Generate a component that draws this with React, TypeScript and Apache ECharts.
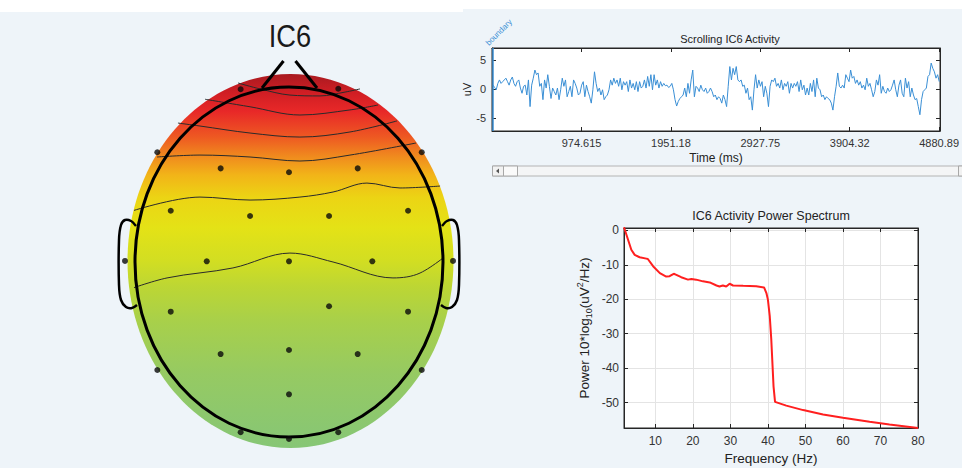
import React, { useEffect, useRef } from 'react';
import * as echarts from 'echarts';

// ---------- Scrolling activity (uV), sampled every TS_STEP_MS from TS_START_MS ----------
const TS_START_MS = 7;
const TS_STEP_MS = 17.6;
const TS_UV = [
  0.7, 0.3, -0.1, 1.0, 1.6, 1.0, 1.3, 1.6, 1.9, 1.3, 0.7, 1.6, 2.1, 1.0, 0.5, 1.3, 1.6, 0.2, -0.7, 0.5, 0.7, -1.0, 1.6, -3.0, 0.7, 1.9,
  3.3, 2.5, 2.8, 0.5, 1.0, -1.8, 1.6, 0.2, 2.5, 0.5, -1.6, 0.2, -0.4, -1.0, 0.2, -1.8, -0.1, 1.9, 0.5, 1.6, -1.3, -0.4, 0.5, -1.3, 1.6, 1.0,
  0.2, -1.0, -0.7, 0.7, 1.3, -1.3, 0.7, -0.4, -1.3, -2.4, -0.1, 3.0, 1.0, -0.4, 0.2, -1.0, -0.1, -1.8, -1.3, -1.0, -0.1, 1.6, 0.7, 1.9, 1.0, 1.6,
  0.5, 1.9, -0.1, 1.3, 0.7, 1.3, -0.4, 1.6, 0.2, 1.0, -0.1, 1.3, -0.4, 1.3, 0.2, 0.5, 1.6, 0.2, 2.2, 0.5, 2.5, -0.1, 2.5, 0.7, 1.6, 0.2,
  1.3, 0.5, 1.0, 0.6, 0.7, 0.3, 0.5, 1.0, -0.1, -1.8, -2.9, -2.1, -1.6, -1.3, -1.0, 0.2, -1.3, 1.0, -0.7, 1.6, 3.3, -1.3, 0.5, 0.2, -0.4, 0.7,
  -0.1, -0.4, 0.2, -0.7, -0.4, 0.2, -0.4, -1.3, -1.0, -1.8, -1.3, -1.6, -2.4, -1.0, -1.8, -3.0, 0.5, 3.9, 1.6, 3.6, 2.5, 3.9, 1.6, 1.3, 1.6, 0.5,
  0.7, -0.7, 0.2, -1.8, -1.3, -3.6, -0.1, 2.5, 0.2, 1.6, 0.5, 1.3, -1.3, 0.5, -0.7, -3.0, 0.5, 1.6, 1.3, 1.9, 0.5, 1.0, 0.2, 1.6, -0.1, 1.0,
  0.5, 1.3, -0.7, 1.0, 0.2, 1.0, 0.5, 1.3, -0.4, 1.6, -0.1, 0.7, -1.0, 0.2, -1.0, 1.0, -0.4, 1.6, -1.3, 1.9, 0.2, -0.1, -1.3, -1.0, -1.8, -1.3,
  -1.6, -1.8, -2.4, -3.6, -1.3, 0.5, 2.8, 0.5, 0.2, 0.7, 0.2, 2.5, 1.9, 1.3, 3.3, 1.9, 2.2, 1.0, 1.6, 0.7, 1.3, 0.2, 0.7, -0.1, 1.9, 0.5,
  1.0, -0.1, -1.3, -0.4, 1.6, 0.7, 2.5, -0.7, 0.5, -0.4, -0.7, 0.2, -0.4, -0.1, 0.7, 1.6, -0.1, -1.3, 0.7, 1.6, -0.7, -1.3, 1.9, 0.2, 1.3, -1.3,
  0.2, -1.0, -1.8, -1.6, -3.0, -4.4, -1.8, -0.4, -0.1, 0.2, 2.2, 2.5, 4.5, 3.6, 3.0, 1.9, 2.5, 1.3,
];
const TIME_TICKS = [974.615, 1951.18, 2927.75, 3904.32, 4880.89];
const BOUNDARY_MS = 0;

// ---------- Power spectrum ----------
const FREQ_HZ = [1.65, 3.6, 4.5, 5.8, 7.6, 8, 9.4, 11.2, 12.9, 13.8, 14.9, 15.6, 16.9, 18.7, 19.6, 20.9, 22.7, 24.5, 26.3, 27.1, 28, 28.9, 29.8, 30.7, 33.4, 36.9, 39, 39.6, 40, 40.5, 40.9, 41.5, 41.9, 44.9, 49.4, 54.7, 60, 67.1, 72.4, 80];
const POWER_DB = [0.9, -5.6, -7.1, -7.8, -8.2, -8.3, -10.4, -12.4, -13.4, -13.3, -12.6, -12.9, -13.6, -14.3, -14.1, -14.3, -14.8, -15.1, -16.0, -16.3, -16.0, -16.3, -15.5, -16.0, -16.1, -16.2, -16.6, -18.2, -20.1, -25, -31.7, -45.3, -49.8, -50.9, -52.2, -53.5, -54.4, -55.6, -56.4, -57.4];

// ---------- Scalp map (normalised head coordinates, nose up) ----------
const ELECTRODE_X = [-0.314, 0.32, -0.855, 0.862, -0.444, 0.0, 0.446, -0.768, -0.253, 0.26, 0.773, -1.065, -0.534, 0.0, 0.541, 1.065, -0.768, 0.26, 0.773, -0.444, 0.0, 0.446, -0.855, 0.862, 0.0, -0.314, 0.0, 0.32];
const ELECTRODE_Y = [0.987, 0.99, 0.627, 0.627, 0.535, 0.513, 0.535, 0.293, 0.263, 0.263, 0.293, 0.006, 0.004, 0.004, 0.004, 0.006, -0.284, -0.253, -0.284, -0.526, -0.503, -0.526, -0.617, -0.617, -0.756, -0.973, -1.011, -0.973];

const CONTOUR_0 = [[-0.331, 1.023], [-0.188, 0.989], [0.006, 0.954], [0.201, 0.949], [0.364, 0.971], [0.461, 0.989]];
const CONTOUR_1 = [[-0.545, 0.93], [-0.253, 0.887], [0.071, 0.84], [0.396, 0.869], [0.578, 0.897]];
const CONTOUR_2 = [[-0.721, 0.794], [-0.578, 0.777], [-0.253, 0.737], [0.071, 0.714], [0.396, 0.743], [0.701, 0.806]];
const CONTOUR_3 = [[-0.857, 0.6], [-0.578, 0.611], [-0.253, 0.6], [0.071, 0.577], [0.396, 0.611], [0.825, 0.68]];
const CONTOUR_4 = [[-1.039, 0.286], [-0.578, 0.371], [-0.253, 0.354], [0.071, 0.371], [0.286, 0.4], [0.506, 0.451], [0.721, 0.423], [0.981, 0.434]];
const CONTOUR_5 = [[-1.052, -0.16], [-0.792, -0.091], [-0.364, -0.034], [0.006, 0.051], [0.286, 0.0], [0.675, -0.091], [0.851, -0.063], [1.058, 0.063]];
const CONTOURS = [CONTOUR_0, CONTOUR_1, CONTOUR_2, CONTOUR_3, CONTOUR_4, CONTOUR_5];

const FONT = 'Liberation Sans, Arial, Helvetica, sans-serif';
const AX = '#262626';

export default function App() {
  const ref = useRef<HTMLDivElement>(null);
  useEffect(() => {
    document.body.style.margin = '0';
    const chart = echarts.init(ref.current!, null, { renderer: 'svg' });

    const tsData = TS_UV.map((v, i) => [TS_START_MS + i * TS_STEP_MS, v]);
    const specData = FREQ_HZ.map((f, i) => [f, POWER_DB[i]]);
    const elecData = ELECTRODE_X.map((x, i) => [x, ELECTRODE_Y[i]]);

    const scalpGradient = new echarts.graphic.LinearGradient(0, 0, 0, 1, [
      { offset: 0, color: '#a81a20' },
      { offset: 0.05, color: '#d01e24' },
      { offset: 0.1, color: '#e82828' },
      { offset: 0.17, color: '#ee5a22' },
      { offset: 0.22, color: '#f08a1e' },
      { offset: 0.27, color: '#f2b418' },
      { offset: 0.33, color: '#ecd414' },
      { offset: 0.41, color: '#e4e216' },
      { offset: 0.5, color: '#d2de22' },
      { offset: 0.57, color: '#bcd634' },
      { offset: 0.66, color: '#a8d04a' },
      { offset: 0.8, color: '#96ca62' },
      { offset: 1, color: '#86c676' },
    ]);

    const stroke = (lw: number) => ({ stroke: '#000', lineWidth: lw, fill: 'none' });
    const tenFmt = (v: number) => (Math.abs(v / 10 - Math.round(v / 10)) < 1e-6 ? String(Math.round(v)) : '');
    const fiveFmt = (v: number) => (Math.abs(v / 5 - Math.round(v / 5)) < 1e-6 ? String(Math.round(v)) : '');
    const axLine = { show: true, onZero: false, lineStyle: { color: AX } };

    const option: any = {
      animation: false,
      backgroundColor: '#eef4f9',
      textStyle: { fontFamily: FONT },
      grid: [
        { left: 492, top: 48, width: 464, height: 83, show: true, backgroundColor: '#fff', borderColor: AX, borderWidth: 1 },
        { left: 624, top: 228, width: 294, height: 200, show: true, backgroundColor: '#fff', borderColor: AX, borderWidth: 1 },
        { left: 135, top: 87, width: 308, height: 350, show: false },
      ],
      xAxis: [
        {
          type: 'value', gridIndex: 0, min: -4, max: 4891,
          axisLine: axLine,
          axisTick: { show: true, inside: true, length: 4, customValues: TIME_TICKS, lineStyle: { color: AX } },
          axisLabel: {
            customValues: TIME_TICKS, color: '#333', fontSize: 11, margin: 6,
            alignMaxLabel: 'center', alignMinLabel: 'center', hideOverlap: false,
            formatter: (v: number) => String(v),
          },
          splitLine: { show: false },
          name: 'Time (ms)', nameLocation: 'middle', nameGap: 21,
          nameTextStyle: { fontSize: 12, color: '#222' },
        },
        {
          type: 'value', gridIndex: 0, position: 'top', min: -4, max: 4891,
          axisLine: axLine,
          axisTick: { show: true, inside: true, length: 4, customValues: TIME_TICKS, lineStyle: { color: AX } },
          axisLabel: { show: false }, splitLine: { show: false },
        },
        {
          type: 'value', gridIndex: 1, min: 1.65, max: 80, minInterval: 10, maxInterval: 10, splitNumber: 8,
          axisLine: axLine,
          axisTick: { show: true, inside: true, length: 4, lineStyle: { color: AX } },
          axisLabel: { color: '#333', fontSize: 12, margin: 7, formatter: tenFmt, showMinLabel: false },
          splitLine: { show: true, lineStyle: { color: '#e4e4e4', width: 1 } },
          name: 'Frequency (Hz)', nameLocation: 'middle', nameGap: 23,
          nameTextStyle: { fontSize: 13.5, color: '#222' },
        },
        {
          type: 'value', gridIndex: 1, position: 'top', min: 1.65, max: 80, minInterval: 10, maxInterval: 10, splitNumber: 8,
          axisLine: axLine,
          axisTick: { show: true, inside: true, length: 4, lineStyle: { color: AX } },
          axisLabel: { show: false }, splitLine: { show: false },
        },
        { type: 'value', gridIndex: 2, min: -1, max: 1, show: false },
      ],
      yAxis: [
        {
          type: 'value', gridIndex: 0, min: -7.2, max: 7.1, minInterval: 5, maxInterval: 5, splitNumber: 3,
          axisLine: axLine,
          axisTick: { show: true, inside: true, length: 4, lineStyle: { color: AX } },
          axisLabel: { color: '#333', fontSize: 11, margin: 6, formatter: fiveFmt },
          splitLine: { show: false },
          name: 'uV', nameLocation: 'middle', nameGap: 17,
          nameTextStyle: { fontSize: 11, color: '#222' },
        },
        {
          type: 'value', gridIndex: 0, position: 'right', min: -7.2, max: 7.1, minInterval: 5, maxInterval: 5, splitNumber: 3,
          axisLine: axLine,
          axisTick: { show: true, inside: true, length: 4, lineStyle: { color: AX } },
          axisLabel: { show: false }, splitLine: { show: false },
        },
        {
          type: 'value', gridIndex: 1, min: -57.4, max: 0.7, minInterval: 10, maxInterval: 10, splitNumber: 6,
          axisLine: axLine,
          axisTick: { show: true, inside: true, length: 4, lineStyle: { color: AX } },
          axisLabel: { color: '#333', fontSize: 12, margin: 5, formatter: tenFmt, showMinLabel: false, showMaxLabel: false },
          splitLine: { show: true, lineStyle: { color: '#e4e4e4', width: 1 } },
          name: 'Power 10*log{sub|10}(uV{sup|2}/Hz)', nameLocation: 'middle', nameGap: 31,
          nameTextStyle: {
            fontSize: 13.5, color: '#222', lineHeight: 18,
            rich: {
              sub: { fontSize: 9, verticalAlign: 'bottom', lineHeight: 18, color: '#222', padding: [6, 0, 0, 0] },
              sup: { fontSize: 9, verticalAlign: 'top', lineHeight: 18, color: '#222', padding: [0, 0, 6, 0] },
            },
          },
        },
        {
          type: 'value', gridIndex: 1, position: 'right', min: -57.4, max: 0.7, minInterval: 10, maxInterval: 10, splitNumber: 6,
          axisLine: axLine,
          axisTick: { show: true, inside: true, length: 4, lineStyle: { color: AX } },
          axisLabel: { show: false }, splitLine: { show: false },
        },
        { type: 'value', gridIndex: 2, min: -1, max: 1, show: false },
      ],
      series: [
        {
          type: 'line', xAxisIndex: 0, yAxisIndex: 0, data: tsData, showSymbol: false, symbol: 'none',
          lineStyle: { color: '#3a8fd5', width: 1 },
          markLine: {
            silent: true, symbol: ['none', 'none'], label: { show: false },
            lineStyle: { color: '#3a8fd5', type: 'solid', width: 1.5 },
            data: [{ xAxis: BOUNDARY_MS }],
          },
        },
        {
          type: 'line', xAxisIndex: 2, yAxisIndex: 2, data: specData, showSymbol: false, symbol: 'none',
          lineStyle: { color: '#ff1f1f', width: 2 },
        },
        ...CONTOURS.map((c) => ({
          type: 'line', xAxisIndex: 4, yAxisIndex: 4, data: c, smooth: 0.35, symbol: 'none', showSymbol: false,
          clip: false, z: 3, silent: true,
          lineStyle: { color: '#2a2a2a', width: 1 },
        })),
        {
          type: 'scatter', xAxisIndex: 4, yAxisIndex: 4, data: elecData, symbol: 'circle', symbolSize: 6,
          itemStyle: { color: '#0a0a0a' }, z: 10, clip: false, silent: true,
        },
      ],
      graphic: [
        { type: 'rect', z: -1, silent: true, shape: { x: 0, y: 0, width: 463, height: 12 }, style: { fill: '#ffffff' } },
        { type: 'rect', z: -1, silent: true, shape: { x: 463, y: 0, width: 499, height: 9 }, style: { fill: '#ffffff' } },
        { type: 'ellipse', z: 1, silent: true, shape: { cx: 290.5, cy: 261, rx: 163, ry: 187 }, style: { fill: scalpGradient } },
        { type: 'ellipse', z: 4, silent: true, shape: { cx: 289, cy: 262, rx: 154, ry: 175 }, style: stroke(3) },
        { type: 'polyline', z: 4, silent: true, shape: { points: [[262, 88], [283.5, 61]] }, style: stroke(3) },
        { type: 'polyline', z: 4, silent: true, shape: { points: [[295.5, 61], [317, 88]] }, style: stroke(3) },
        {
          type: 'polyline', z: 4, silent: true,
          shape: { smooth: 0.3, points: [[136, 226], [131, 221], [125, 220], [121, 225], [119, 240], [119, 285], [121, 300], [126, 307], [132, 308], [137, 305]] },
          style: stroke(2.5),
        },
        {
          type: 'polyline', z: 4, silent: true,
          shape: { smooth: 0.3, points: [[442, 226], [447, 221], [453, 220], [457, 225], [459, 240], [459, 285], [457, 300], [452, 307], [446, 308], [441, 305]] },
          style: stroke(2.5),
        },
        {
          type: 'text', z: 5, x: 290, y: 36, scaleX: 0.88, silent: true,
          style: { text: 'IC6', fontSize: 31, fontFamily: FONT, fill: '#1a1a1a', align: 'center', verticalAlign: 'middle' },
        },
        {
          type: 'text', z: 5, x: 730, y: 39, silent: true,
          style: { text: 'Scrolling IC6 Activity', fontSize: 11, fontFamily: FONT, fill: '#222', align: 'center', verticalAlign: 'middle' },
        },
        {
          type: 'text', z: 5, x: 771, y: 216, silent: true,
          style: { text: 'IC6 Activity Power Spectrum', fontSize: 12.5, fontFamily: FONT, fill: '#222', align: 'center', verticalAlign: 'middle' },
        },
        {
          type: 'text', z: 5, x: 490, y: 47, rotation: Math.PI / 4, silent: true,
          style: { text: 'boundary', fontSize: 8, fontFamily: FONT, fill: '#3a8fd5', align: 'left', verticalAlign: 'bottom' },
        },
        // scrollbar
        { type: 'rect', z: 2, silent: true, shape: { x: 492.5, y: 166, width: 470, height: 10 }, style: { fill: '#f4f5f6', stroke: '#b4b4b4', lineWidth: 1 } },
        { type: 'rect', z: 3, silent: true, shape: { x: 492.5, y: 166, width: 11, height: 10 }, style: { fill: '#f2f2f2', stroke: '#a8a8a8', lineWidth: 1 } },
        { type: 'polygon', z: 4, silent: true, shape: { points: [[496, 171], [499, 168.5], [499, 173.5]] }, style: { fill: '#555' } },
        { type: 'rect', z: 3, silent: true, shape: { x: 503.5, y: 166, width: 14, height: 10 }, style: { fill: '#fafafa', stroke: '#a8a8a8', lineWidth: 1 } },
        { type: 'rect', z: 3, silent: true, shape: { x: 958.5, y: 166, width: 11, height: 10 }, style: { fill: '#f2f2f2', stroke: '#a8a8a8', lineWidth: 1 } },
      ],
    };

    chart.setOption(option);
    return () => chart.dispose();
  }, []);

  return <div ref={ref} style={{ width: 962, height: 468 }} />;
}
